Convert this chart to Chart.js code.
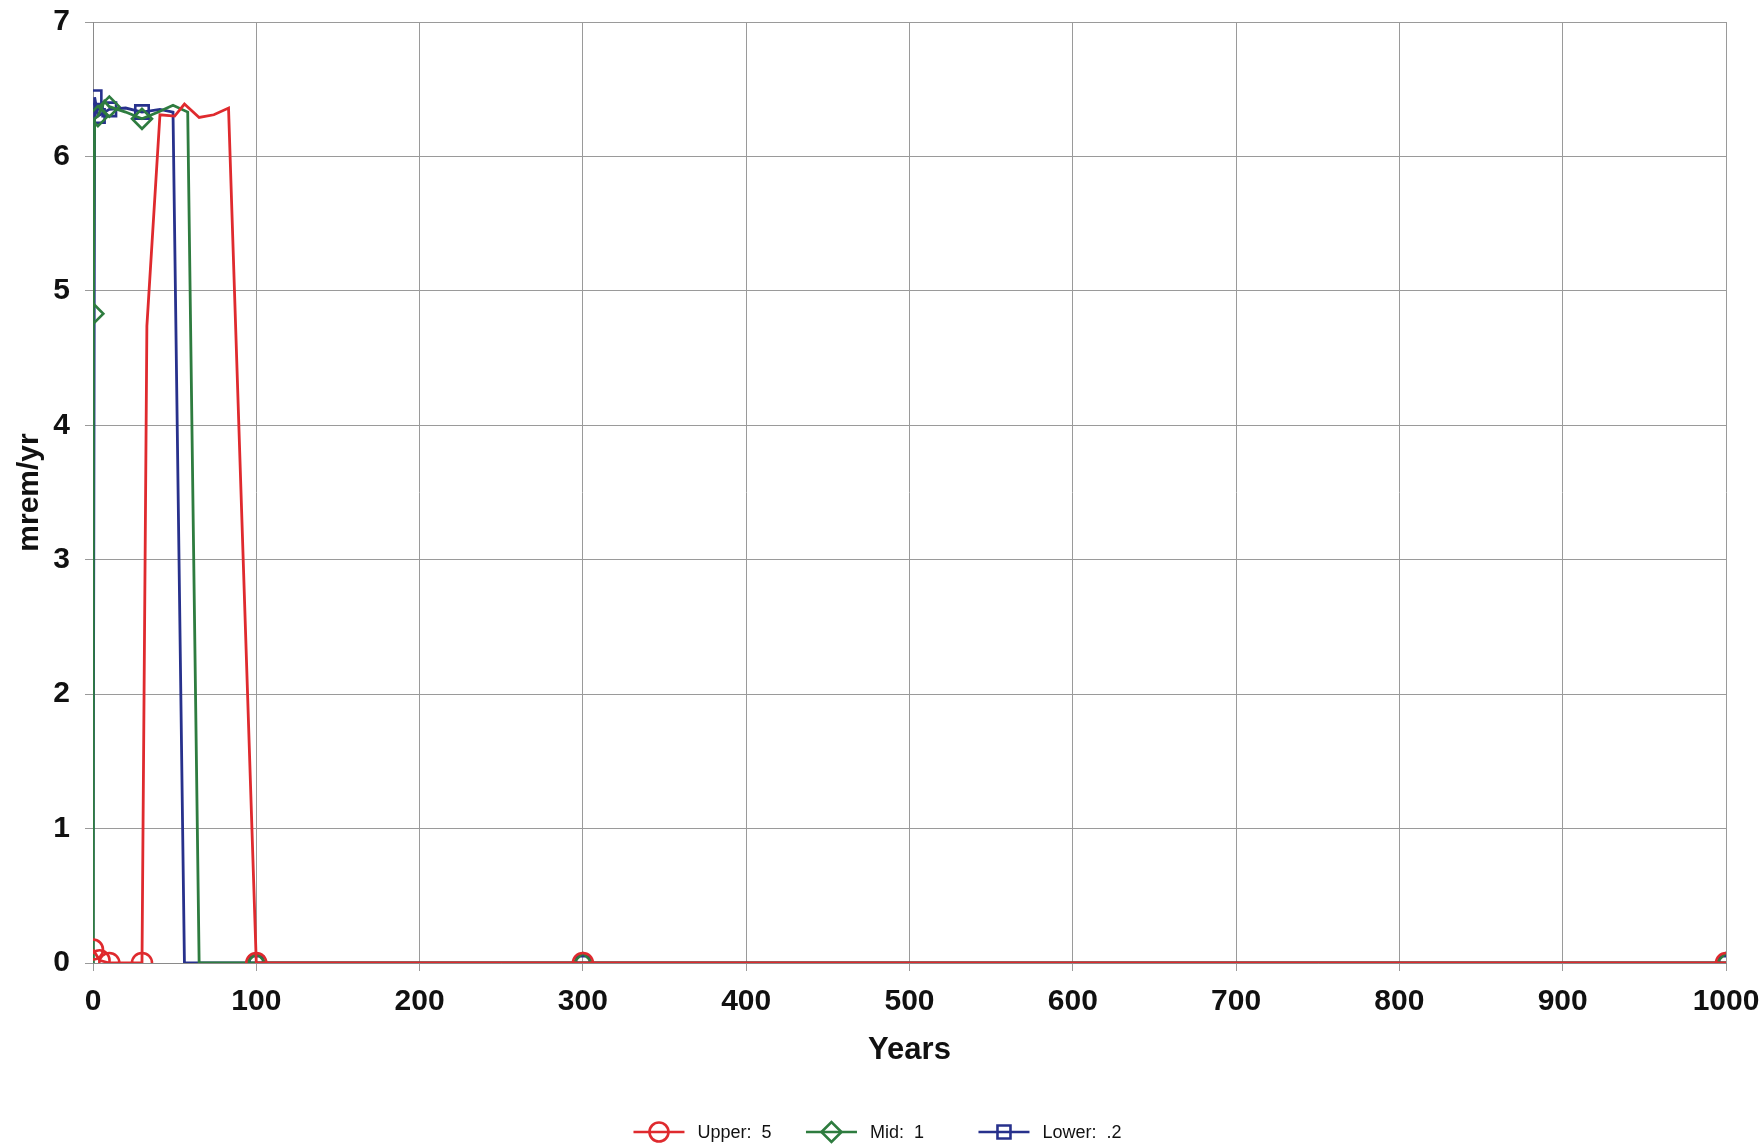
<!DOCTYPE html>
<html>
<head>
<meta charset="utf-8">
<script src="https://cdn.jsdelivr.net/npm/chart.js@4.4.1/dist/chart.umd.min.js"></script>
<style>
  html, body { margin: 0; padding: 0; background: #fff; }
</style>
</head>
<body>
<canvas id="chart" width="1763" height="1146"></canvas>
<script>
// dose (mrem/yr) vs. time (years)
const upperYears = [0, 4, 10, 30, 33, 41, 50, 56, 65, 74, 83, 100, 300, 1000];
const upperDose  = [0.1, 0.02, 0, 0, 4.74, 6.31, 6.30, 6.39, 6.29, 6.31, 6.36, 0, 0, 0];
const upperMarked = [0, 4, 10, 30, 100, 300, 1000];

const midYears = [0, 0.2, 1, 3, 7, 10, 20, 30, 40, 49, 58, 65, 100, 300, 1000];
const midDose  = [0, 4.83, 6.28, 6.3, 6.41, 6.37, 6.33, 6.28, 6.33, 6.38, 6.33, 0, 0, 0, 0];
const midMarked = [0.2, 3, 10, 30, 100, 300, 1000];

const lowerYears = [0, 1, 3, 10, 20, 30, 41, 49, 56, 100, 300, 1000];
const lowerDose  = [0, 6.44, 6.3, 6.35, 6.36, 6.33, 6.35, 6.33, 0, 0, 0, 0];
const lowerMarked = [1, 3, 10, 30, 100, 300, 1000];

const seriesNames = ['Upper:  5', 'Mid:  1', 'Lower:  .2'];
const xTitle = 'Years';
const yTitle = 'mrem/yr';

const RED = '#df2a2e';
const GREEN = '#2e7c3f';
const BLUE = '#27318c';
const FONT = "'Liberation Sans', Arial, sans-serif";

function toPoints(xs, ys) {
  return xs.map((x, i) => ({ x, y: ys[i] }));
}

function series(label, xs, ys, marked, color, style, radius) {
  return {
    label,
    data: toPoints(xs, ys),
    borderColor: color,
    borderWidth: 2.8,
    pointStyle: style,
    pointRadius: (c) => (marked.includes(c.raw.x) ? radius : 0),
    pointBorderColor: color,
    pointBackgroundColor: 'rgba(0,0,0,0)',
    pointBorderWidth: 2.6,
    tension: 0
  };
}

// legend with line-through markers, entries on a fixed pitch like the original
const lineLegend = {
  id: 'lineLegend',
  afterDraw(chart) {
    const ctx = chart.ctx;
    const y = 1132;
    const seg = 51, gap = 13, pitch = 172.5;
    ctx.save();
    ctx.font = '18px ' + FONT;
    const items = chart.data.datasets.map((d) => ({
      text: d.label, color: d.borderColor, style: d.pointStyle,
      w: seg + gap + ctx.measureText(d.label).width
    }));
    const total = pitch * (items.length - 1) + items[items.length - 1].w;
    let x = chart.width / 2 - total / 2 - 4;
    items.forEach((it) => {
      ctx.strokeStyle = it.color;
      ctx.lineWidth = 2.6;
      ctx.beginPath();
      ctx.moveTo(x, y);
      ctx.lineTo(x + seg, y);
      ctx.stroke();
      const cx = x + seg / 2;
      ctx.beginPath();
      if (it.style === 'circle') {
        ctx.arc(cx, y, 9.5, 0, Math.PI * 2);
      } else if (it.style === 'rectRot') {
        ctx.moveTo(cx - 10, y); ctx.lineTo(cx, y - 10);
        ctx.lineTo(cx + 10, y); ctx.lineTo(cx, y + 10);
        ctx.closePath();
      } else {
        ctx.rect(cx - 6.5, y - 6.5, 13, 13);
      }
      ctx.stroke();
      ctx.fillStyle = '#111';
      ctx.textBaseline = 'middle';
      ctx.textAlign = 'left';
      ctx.fillText(it.text, x + seg + gap, y + 1);
      x += pitch;
    });
    ctx.restore();
  }
};

new Chart(document.getElementById('chart'), {
  type: 'line',
  data: {
    datasets: [
      series(seriesNames[0], upperYears, upperDose, upperMarked, RED, 'circle', 10),
      series(seriesNames[1], midYears, midDose, midMarked, GREEN, 'rectRot', 10),
      series(seriesNames[2], lowerYears, lowerDose, lowerMarked, BLUE, 'rect', 9.5)
    ]
  },
  options: {
    responsive: false,
    animation: false,
    layout: { padding: { top: 22, right: 37, bottom: 74, left: 0 } },
    plugins: {
      legend: { display: false },
      tooltip: { enabled: false }
    },
    scales: {
      x: {
        type: 'linear',
        min: 0,
        max: 1000,
        ticks: {
          stepSize: 100,
          color: '#111',
          padding: 13,
          maxRotation: 0,
          callback: (v) => String(v),
          font: { family: FONT, size: 30, weight: 'bold' }
        },
        grid: { color: '#9a9a9a', lineWidth: 1, tickLength: 8 },
        border: { color: '#8a8a8a', width: 1 },
        title: {
          display: true,
          text: xTitle,
          color: '#111',
          padding: { top: 4, bottom: 3 },
          font: { family: FONT, size: 31, weight: 'bold' }
        },
        afterFit: (s) => { s.height = 109; s.paddingLeft = 0; s.paddingRight = 0; }
      },
      y: {
        min: 0,
        max: 7,
        ticks: {
          stepSize: 1,
          color: '#111',
          padding: 15,
          font: { family: FONT, size: 30, weight: 'bold' }
        },
        grid: { color: '#9a9a9a', lineWidth: 1, tickLength: 8 },
        border: { color: '#8a8a8a', width: 1 },
        title: {
          display: true,
          text: yTitle,
          color: '#111',
          padding: { top: 12, bottom: 0 },
          font: { family: FONT, size: 30, weight: 'bold' }
        },
        afterFit: (s) => { s.width = 93; s.paddingTop = 0; s.paddingBottom = 0; }
      }
    }
  },
  plugins: [lineLegend]
});
</script>
</body>
</html>
